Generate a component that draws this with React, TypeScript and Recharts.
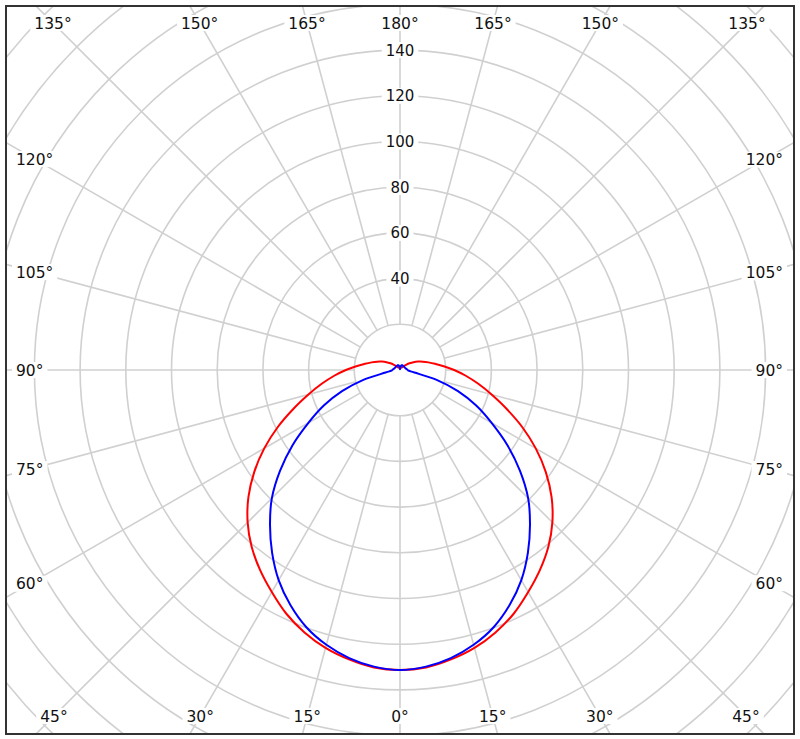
import React from 'react';
import { RadarChart, Radar, PolarGrid, PolarAngleAxis, PolarRadiusAxis } from 'recharts';

// Half-plane angles (deg from nadir) and intensities (0..180, step 5)
const HALF_ANGLES = [0, 5, 10, 15, 20, 25, 30, 35, 40, 45, 50, 55, 60, 65, 70, 75, 80, 85, 90,
  95, 100, 105, 110, 115, 120, 125, 130, 135, 140, 145, 150, 155, 160, 165, 170, 175, 180];
const RED_HALF = [131.3, 130.7, 128.6, 125.9, 122.2, 117.7, 112.2, 106.8, 101, 94.3, 86.6, 77.9, 68.6,
  59, 49.6, 41.5, 34.8, 28.9, 23.7, 19.2, 15.6, 12.9, 10.7, 8.7, 6.8, 5.1, 3.7, 2.6, 1.9, 1.4,
  1.2, 1.2, 1.2, 1.2, 1.2, 1.2, 1.2];
const BLUE_HALF = [131.3, 130.3, 128, 124.5, 119.8, 113.5, 106.2, 97.6, 88.5, 79.3, 68.5, 57.4, 46.3,
  36.8, 27, 16.6, 6.4, 4, 3.4, 3.1, 2.8, 2.6, 2.5, 2.4, 2.3, 2.3, 2.3, 2.3, 2.3, 2.3,
  2.3, 2.3, 2.2, 2, 1.5, 0.8, 0.3];

// Full circle categories (0..355) — the right and left half-planes share the readings
const ALL_ANGLES = [0, 5, 10, 15, 20, 25, 30, 35, 40, 45, 50, 55, 60, 65, 70, 75, 80, 85, 90, 95, 100,
  105, 110, 115, 120, 125, 130, 135, 140, 145, 150, 155, 160, 165, 170, 175, 180, 185, 190, 195, 200,
  205, 210, 215, 220, 225, 230, 235, 240, 245, 250, 255, 260, 265, 270, 275, 280, 285, 290, 295, 300,
  305, 310, 315, 320, 325, 330, 335, 340, 345, 350, 355];
const GRID_ANGLES = [0, 15, 30, 45, 60, 75, 90, 105, 120, 135, 150, 165, 180, 195, 210, 225, 240, 255,
  270, 285, 300, 315, 330, 345];
const RADIUS_TICKS = [20, 40, 60, 80, 100, 120, 140, 160, 180, 200, 220, 240];
const RADIUS_LABELS = [40, 60, 80, 100, 120, 140];

const halfIndex = (a: number) => HALF_ANGLES.indexOf(a <= 180 ? a : 360 - a);
const DATA = ALL_ANGLES.map((a) => ({ angle: a, red: RED_HALF[halfIndex(a)], blue: BLUE_HALF[halfIndex(a)] }));
const GRID_ROWS = GRID_ANGLES.map((a) => ({ angle: a }));

const W = 786;
const H = 726;
const CX = 393;
const CY = 363;
const PX_PER_UNIT = 2.285;
const R_MAX = 240;
const OUTER = R_MAX * PX_PER_UNIT;
const INNER = 20 * PX_PER_UNIT;
const GRID_COLOR = '#d0d0d0';
const FONT = '"DejaVu Sans", Verdana, sans-serif';
const LABEL_BOX = { left: 9, right: 776, top: 8, bottom: 717 };
const MARGIN = { top: 0, right: 0, bottom: 0, left: 0 };

const AngleTick = (props: any) => {
  const { payload } = props;
  const v = Number(payload.value);
  if (v % 15 !== 0) return <g />;
  const shown = v <= 180 ? v : 360 - v;
  const text = `${shown}°`;
  const rad = (Number(payload.coordinate) * Math.PI) / 180;
  const ux = Math.cos(rad);
  const uy = -Math.sin(rad);
  const cx = typeof props.cx === 'number' ? props.cx : CX;
  const cy = typeof props.cy === 'number' ? props.cy : CY;
  const w = String(shown).length * 9.86 + 7.75;
  const h = 16;
  const ts: number[] = [];
  if (ux > 1e-6) ts.push((LABEL_BOX.right - w / 2 - cx) / ux);
  if (ux < -1e-6) ts.push((LABEL_BOX.left + w / 2 - cx) / ux);
  if (uy > 1e-6) ts.push((LABEL_BOX.bottom - h / 2 - cy) / uy);
  if (uy < -1e-6) ts.push((LABEL_BOX.top + h / 2 - cy) / uy);
  const t = Math.min(...ts);
  const x = cx + t * ux;
  const y = cy + t * uy;
  return (
    <g>
      <rect x={x - w / 2 - 4} y={y - h / 2} width={w + 8} height={h} fill="#ffffff" />
      <text x={x} y={y} dy="0.36em" textAnchor="middle" fontFamily={FONT} fontSize={15.5} fill="#111">
        {text}
      </text>
    </g>
  );
};

const RadiusTick = (props: any) => {
  const { x, y, payload } = props;
  const v = Number(payload.value);
  if (!RADIUS_LABELS.includes(v)) return <g />;
  const w = String(v).length * 9.5;
  return (
    <g>
      <rect x={x - w / 2 - 4} y={y - 8} width={w + 8} height={16} fill="#ffffff" />
      <text x={x} y={y} dy="0.36em" textAnchor="middle" fontFamily={FONT} fontSize={15} fill="#111">
        {v}
      </text>
    </g>
  );
};

type Pt = { x: number; y: number };
const smoothClosedPath = (pts: Pt[]) => {
  const n = pts.length;
  if (!n) return '';
  let d = `M${pts[0].x},${pts[0].y}`;
  for (let i = 0; i < n; i++) {
    const p0 = pts[(i - 1 + n) % n];
    const p1 = pts[i];
    const p2 = pts[(i + 1) % n];
    const p3 = pts[(i + 2) % n];
    const c1x = p1.x + (p2.x - p0.x) / 6;
    const c1y = p1.y + (p2.y - p0.y) / 6;
    const c2x = p2.x - (p3.x - p1.x) / 6;
    const c2y = p2.y - (p3.y - p1.y) / 6;
    d += ` C${c1x},${c1y} ${c2x},${c2y} ${p2.x},${p2.y}`;
  }
  return d + ' Z';
};

const makeShape = (color: string) => (props: any) => (
  <path d={smoothClosedPath(props.points || [])} fill="none" stroke={color} strokeWidth={2} strokeLinejoin="round" />
);

export default function App() {
  return (
    <div
      style={{
        position: 'absolute',
        left: 5,
        top: 5,
        width: 790,
        height: 730,
        border: '2px solid #333',
        boxSizing: 'border-box',
        overflow: 'hidden',
        background: '#fff',
      }}
    >
      <div style={{ position: 'absolute', left: 0, top: 0 }}>
        <RadarChart
          width={W}
          height={H}
          cx={CX}
          cy={CY}
          innerRadius={INNER}
          outerRadius={OUTER}
          startAngle={-90}
          endAngle={270}
          data={GRID_ROWS}
          margin={MARGIN}
        >
          <PolarGrid gridType="circle" polarRadius={[]} stroke={GRID_COLOR} strokeWidth={1.6} />
          <PolarAngleAxis
            dataKey="angle"
            type="number"
            domain={[0, 360]}
            ticks={GRID_ANGLES}
            tick={false}
            axisLine={false}
            tickLine={false}
          />
        </RadarChart>
      </div>
      <div style={{ position: 'absolute', left: 0, top: 0 }}>
        <RadarChart
          width={W}
          height={H}
          cx={CX}
          cy={CY}
          innerRadius={0}
          outerRadius={OUTER}
          startAngle={-90}
          endAngle={270}
          data={DATA}
          margin={MARGIN}
        >
          <PolarGrid gridType="circle" radialLines={false} stroke={GRID_COLOR} strokeWidth={1.6} />
          <PolarAngleAxis
            dataKey="angle"
            type="number"
            domain={[0, 360]}
            ticks={GRID_ANGLES}
            tick={AngleTick}
            axisLine={false}
            tickLine={false}
          />
          <PolarRadiusAxis
            angle={90}
            type="number"
            domain={[0, R_MAX]}
            ticks={RADIUS_TICKS}
            tick={RadiusTick}
            axisLine={false}
            tickLine={false}
          />
          <Radar dataKey="red" stroke="#ff0000" fill="none" shape={makeShape('#ff0000')} dot={false} isAnimationActive={false} />
          <Radar dataKey="blue" stroke="#0000ff" fill="none" shape={makeShape('#0000ff')} dot={false} isAnimationActive={false} />
        </RadarChart>
      </div>
    </div>
  );
}
